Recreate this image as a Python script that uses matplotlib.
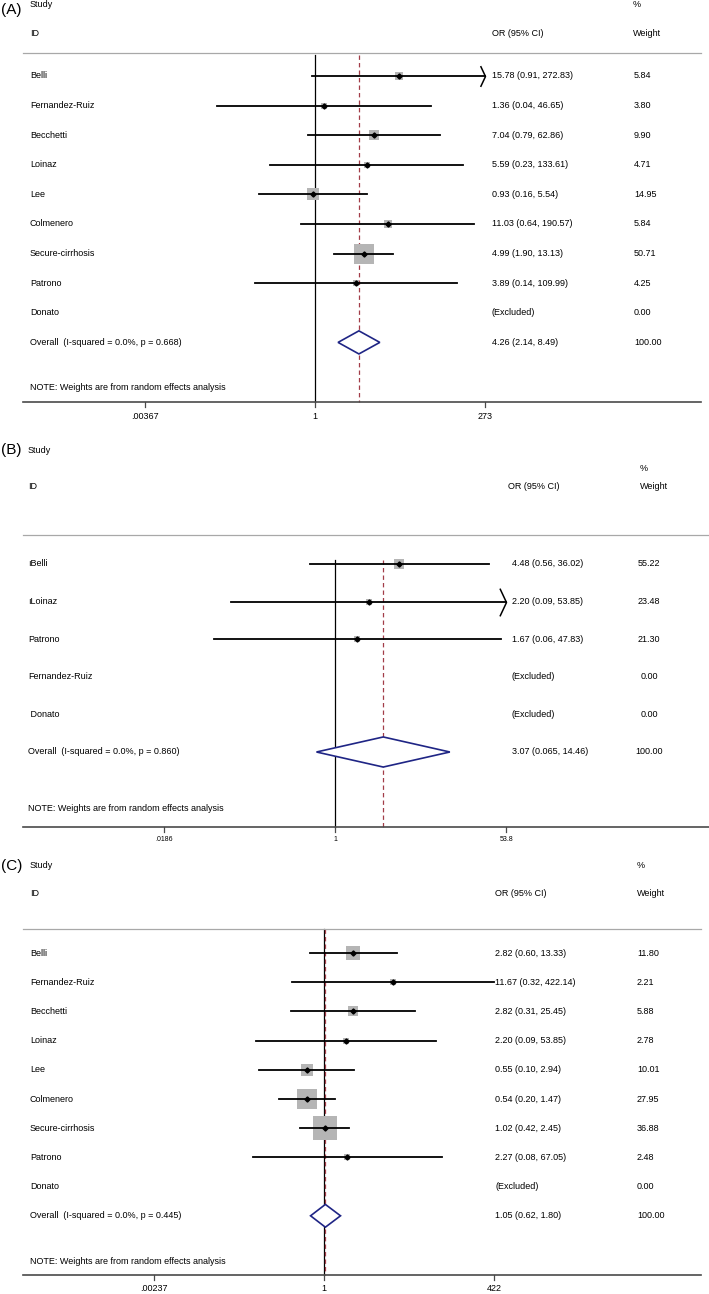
import numpy as np
import matplotlib
matplotlib.use("Agg")
import matplotlib.pyplot as plt
from matplotlib.path import Path
from matplotlib.patches import Polygon
from matplotlib.transforms import blended_transform_factory

plt.rcParams["font.family"] = ["Liberation Sans", "DejaVu Sans"]

W, H = 709, 1294

# ---- panel A data ----
a_studies = ["Belli", "Fernandez-Ruiz", "Becchetti", "Loinaz", "Lee",
             "Colmenero", "Secure-cirrhosis", "Patrono", "Donato"]
a_or = [15.78, 1.36, 7.04, 5.59, 0.93, 11.03, 4.99, 3.89, np.nan]
a_lo = [0.91, 0.04, 0.79, 0.23, 0.16, 0.64, 1.90, 0.14, np.nan]
a_hi = [272.83, 46.65, 62.86, 133.61, 5.54, 190.57, 13.13, 109.99, np.nan]
a_weight = [5.84, 3.80, 9.90, 4.71, 14.95, 5.84, 50.71, 4.25, 0.00]
a_arrow = [True, False, False, False, False, False, False, False, False]
a_overall = [4.26, 2.14, 8.49]
a_overall_text = "4.26 (2.14, 8.49)"
a_het = "Overall  (I-squared = 0.0%, p = 0.668)"
a_ticks = [0.00367, 1, 273]
a_ticklabels = [".00367", "1", "273"]

# ---- panel B data ----
b_studies = ["\u0131Belli", "\u0131Loinaz", "Patrono", "Fernandez-Ruiz", " Donato"]
b_or = [4.48, 2.20, 1.67, np.nan, np.nan]
b_lo = [0.56, 0.09, 0.06, np.nan, np.nan]
b_hi = [36.02, 53.85, 47.83, np.nan, np.nan]
b_weight = [55.22, 23.48, 21.30, 0.00, 0.00]
b_arrow = [False, True, False, False, False]
b_overall = [3.07, 0.65, 14.46]          # diamond as drawn in the figure
b_overall_text = "3.07 (0.065, 14.46)"   # label as printed
b_het = "Overall  (I-squared = 0.0%, p = 0.860)"
b_ticks = [0.0186, 1, 53.8]
b_ticklabels = [".0186", "1", "53.8"]

# ---- panel C data ----
c_studies = ["Belli", "Fernandez-Ruiz", "Becchetti", "Loinaz", "Lee",
             "Colmenero", "Secure-cirrhosis", "Patrono", "Donato"]
c_or = [2.82, 11.67, 2.82, 2.20, 0.55, 0.54, 1.02, 2.27, np.nan]
c_lo = [0.60, 0.32, 0.31, 0.09, 0.10, 0.20, 0.42, 0.08, np.nan]
c_hi = [13.33, 422.14, 25.45, 53.85, 2.94, 1.47, 2.45, 67.05, np.nan]
c_weight = [11.80, 2.21, 5.88, 2.78, 10.01, 27.95, 36.88, 2.48, 0.00]
c_arrow = [False] * 9
c_overall = [1.05, 0.62, 1.80]
c_overall_text = "1.05 (0.62, 1.80)"
c_het = "Overall  (I-squared = 0.0%, p = 0.445)"
c_ticks = [0.00237, 1, 422]
c_ticklabels = [".00237", "1", "422"]

NOTE = "NOTE: Weights are from random effects analysis"
DASH_COLOR = "#a23d48"
DIAMOND_COLOR = "#1f2585"
SQUARE_COLOR = "#b5b5b5"
FS = 6.5

# open arrow head marker, tip at the data point
arrow_marker = Path([(-0.47, 1.0), (0.0, 0.0), (-0.47, -1.0)],
                    [Path.MOVETO, Path.LINETO, Path.LINETO])


def draw_panel(fig, band, letter, studies, ors, los, his, weights, arrows,
               overall, overall_text, het, ticks, ticklabels, lay):
    top, bottom = band
    y0, step = lay["row0"], lay["step"]
    ax = fig.add_axes([0, 1 - bottom / H, 1, (bottom - top) / H])
    ax.set_xscale("log")
    ppl, px1 = lay["ppl"], lay["px_one"]
    ax.set_xlim(np.exp(-px1 / ppl), np.exp((W - px1) / ppl))
    ax.set_ylim((bottom - y0) / step, (top - y0) / step)
    ax.axis("off")
    tr = blended_transform_factory(ax.transAxes, ax.transData)

    def px(x):
        return x / W

    n = len(studies)
    r_over = n
    r_axis = lay["axis_row"]

    # header
    fig.text(px(1), 1 - (lay["letter_y"]) / H, f"({letter})", fontsize=11,
             va="center", ha="left")
    ax.text(px(lay["label_x"]), lay["study_row"], "Study", transform=tr,
            fontsize=FS, va="center")
    ax.text(px(lay["label_x"]), lay["id_row"], "ID", transform=tr,
            fontsize=FS, va="center")
    ax.text(px(lay["or_head_x"]), lay["id_row"], "OR (95% CI)", transform=tr,
            fontsize=FS, va="center")
    ax.text(px(lay["w_head_x"]), lay["pct_row"], "%", transform=tr,
            fontsize=FS, va="center")
    ax.text(px(lay["w_head_x"]), lay["id_row"], "Weight", transform=tr,
            fontsize=FS, va="center")
    ax.plot([px(23), px(lay["line_end"])], [lay["gray_row"]] * 2,
            transform=tr, color="#a8a8a8", lw=0.9)

    # reference lines
    ax.plot([1, 1], [lay["vline_top"], r_axis], color="black", lw=0.9,
            zorder=1)
    ax.plot([overall[0]] * 2, [lay["vline_top"], r_axis], color=DASH_COLOR,
            lw=0.9, dashes=(3.5, 2.5), zorder=1.5)

    xmax = ticks[-1]
    for i, name in enumerate(studies):
        ax.text(px(lay["label_x"]), i, name, transform=tr, fontsize=FS,
                va="center")
        w_ha = lay["w_ha"]
        ax.text(px(lay["w_x"]), i, f"{weights[i]:.2f}", transform=tr,
                fontsize=FS, va="center", ha=w_ha)
        if np.isnan(ors[i]):
            ax.text(px(lay["or_x"]), i, "(Excluded)", transform=tr,
                    fontsize=FS, va="center")
            continue
        ax.text(px(lay["or_x"]), i,
                f"{ors[i]:.2f} ({los[i]:.2f}, {his[i]:.2f})", transform=tr,
                fontsize=FS, va="center")
        side = lay["sq_k"] * np.sqrt(weights[i]) * 0.72
        ax.scatter([ors[i]], [i], marker="s", s=side ** 2, color=SQUARE_COLOR,
                   linewidths=0, zorder=2)
        hi = min(his[i], xmax)
        ax.plot([max(los[i], ticks[0]), hi], [i, i], color="black", lw=1.3,
                zorder=3)
        if arrows[i]:
            ax.plot([xmax], [i], marker=arrow_marker, ms=lay["arrow_ms"],
                    mfc="none", mec="black", mew=1.1, zorder=3)
        ax.plot([ors[i]], [i], marker="D", ms=2.6, color="black", zorder=4)

    # overall
    ax.text(px(lay["label_x"]), r_over, het, transform=tr, fontsize=FS,
            va="center")
    ax.text(px(lay["or_x"]), r_over, overall_text, transform=tr, fontsize=FS,
            va="center")
    ax.text(px(lay["w_x"]), r_over, "100.00", transform=tr, fontsize=FS,
            va="center", ha=lay["w_ha"])
    est, lo, hi = overall
    dh = lay["dia_h"]
    ax.add_patch(Polygon([(lo, r_over), (est, r_over - dh), (hi, r_over),
                          (est, r_over + dh)], closed=True, facecolor="white",
                         edgecolor=DIAMOND_COLOR, lw=1.2, zorder=5))
    ax.text(px(lay["label_x"]), lay["note_row"], NOTE, transform=tr,
            fontsize=FS, va="center")

    # x axis
    ax.plot([px(23), px(lay["line_end"])], [r_axis] * 2, transform=tr,
            color="#4a4a4a", lw=1.2)
    for t, lab in zip(ticks, ticklabels):
        ax.plot([t, t], [r_axis, r_axis + lay["tick_len"]], color="#4a4a4a",
                lw=0.9)
        ax.text(t, lay["ticklab_row"], lab, ha="center", va="center",
                fontsize=lay["tick_fs"])
    return ax


fig = plt.figure(figsize=(W / 100, H / 100), dpi=100)

lay_a = dict(row0=76, step=29.6, ppl=30.3, px_one=315, letter_y=10,
             label_x=30, study_row=-2.4, id_row=-1.45, pct_row=-2.43,
             gray_row=-0.78, or_head_x=492, w_head_x=633, or_x=492, w_x=634,
             w_ha="left", line_end=701, vline_top=-0.72, axis_row=11.0,
             note_row=10.54, ticklab_row=11.52, tick_len=0.17, tick_fs=6.5,
             sq_k=2.92, dia_h=0.39, arrow_ms=15)
draw_panel(fig, (0, 430), "A", a_studies, a_or, a_lo, a_hi, a_weight, a_arrow,
           a_overall, a_overall_text, a_het, a_ticks, a_ticklabels, lay_a)

lay_b = dict(row0=564, step=37.6, ppl=43.0, px_one=335, letter_y=450,
             label_x=28, study_row=-3.03, id_row=-2.05, pct_row=-2.53,
             gray_row=-0.77, or_head_x=508, w_head_x=640, or_x=512, w_x=649,
             w_ha="center", line_end=709, vline_top=-0.1, axis_row=7.0,
             note_row=6.49, ticklab_row=7.34, tick_len=0.13, tick_fs=5,
             sq_k=1.3, dia_h=0.4, arrow_ms=20)
draw_panel(fig, (430, 850), "B", b_studies, b_or, b_lo, b_hi, b_weight, b_arrow,
           b_overall, b_overall_text, b_het, b_ticks, b_ticklabels, lay_b)

lay_c = dict(row0=953, step=29.2, ppl=28.1, px_one=324, letter_y=866,
             label_x=30, study_row=-3.0, id_row=-2.05, pct_row=-3.0,
             gray_row=-0.82, or_head_x=495, w_head_x=637, or_x=495, w_x=637,
             w_ha="left", line_end=701, vline_top=-0.82, axis_row=11.03,
             note_row=10.55, ticklab_row=11.5, tick_len=0.17, tick_fs=6.5,
             sq_k=3.84, dia_h=0.39, arrow_ms=15)
draw_panel(fig, (850, 1294), "C", c_studies, c_or, c_lo, c_hi, c_weight, c_arrow,
           c_overall, c_overall_text, c_het, c_ticks, c_ticklabels, lay_c)

fig.savefig("out.png", dpi=100)
